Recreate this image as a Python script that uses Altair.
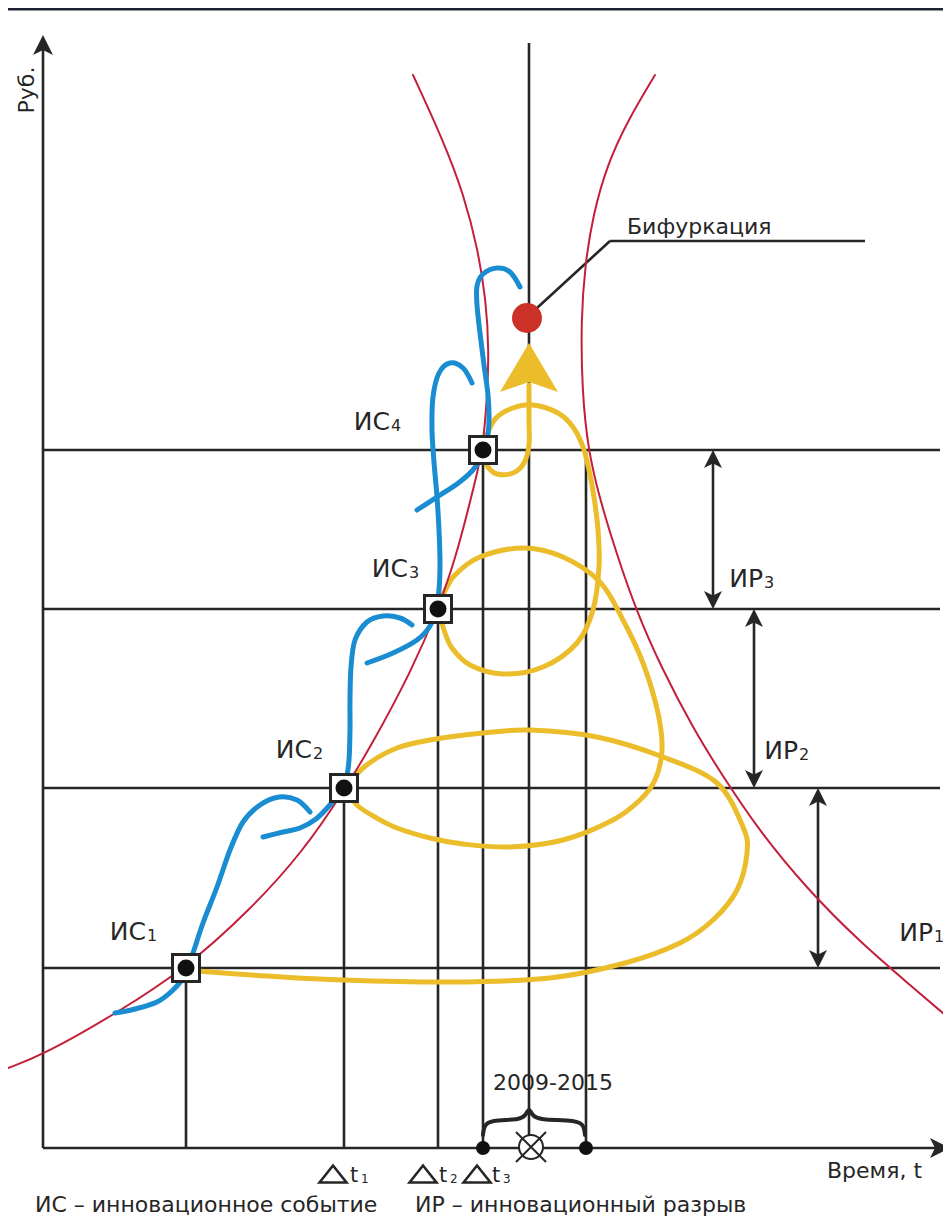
import altair as alt
import pandas as pd

# ---------------- data (diagram units = picture units) ----------------
# red funnel curves
red_left = [(8, 1068), (43, 1055), (117, 1013), (186, 968), (248, 912), (303, 852), (345, 789),
            (370, 748), (412, 670), (438, 609), (455, 560), (468, 510), (478, 470), (483, 445),
            (487, 400), (489, 350), (486, 300), (478, 250), (464, 195), (443, 140), (413, 75)]
red_right = [(655, 75), (628, 120), (607, 165), (593, 215), (585, 265), (581, 320), (582, 390),
             (588, 450), (600, 500), (617, 555), (636, 610), (661, 667), (694, 730), (722, 775),
             (760, 832), (808, 890), (860, 942), (910, 985), (951, 1020)]

# blue S-curves (one per innovation event)
blue_1 = [(115, 1013), (135, 1009), (157, 1002), (173, 990), (185, 975), (193, 953), (203, 923),
          (217, 887), (230, 850), (243, 822), (260, 805), (279, 797), (297, 800), (310, 812)]
blue_2 = [(263, 837), (283, 832), (300, 828), (316, 819), (329, 806), (340, 793), (346, 780),
          (349, 760), (350, 730), (350, 700), (351, 667), (355, 640), (367, 622), (383, 616),
          (400, 618), (412, 625)]
blue_3 = [(367, 663), (393, 653), (417, 640), (430, 626), (436, 610), (439, 590), (440, 563),
          (439, 530), (437, 497), (434, 462), (432, 430), (433, 397), (439, 373), (450, 363),
          (463, 368), (472, 383)]
blue_4 = [(417, 510), (437, 497), (457, 484), (472, 471), (481, 458), (487, 440), (489, 420),
          (488, 395), (484, 365), (480, 333), (477, 305), (477, 286), (483, 274), (497, 268),
          (510, 272), (520, 287)]

# yellow spiral of innovation cycles
yellow_1 = [(197, 971), (267, 976), (343, 980), (450, 982), (550, 978), (625, 963), (680, 943),
            (713, 920), (737, 890), (747, 853), (743, 827), (717, 783), (663, 757), (597, 737),
            (530, 730), (483, 733), (430, 740), (397, 748), (368, 764), (348, 784)]
yellow_2 = [(348, 793), (358, 806), (375, 817), (397, 828), (430, 838), (463, 844), (510, 847),
            (563, 840), (613, 820), (640, 800), (655, 780), (662, 750), (658, 713), (643, 663),
            (623, 620), (600, 582), (563, 557), (523, 548), (480, 557), (455, 575), (443, 595),
            (440, 604)]
yellow_3 = [(440, 614), (444, 630), (452, 648), (470, 665), (503, 674), (543, 667), (577, 643),
            (593, 610), (599, 567), (598, 530), (594, 497), (589, 470), (583, 447), (573, 427),
            (558, 413), (533, 405), (513, 408), (496, 418), (487, 435)]
yellow_4 = [(485, 457), (488, 467), (497, 474), (513, 473), (524, 463), (529, 445), (529, 420),
            (529, 385)]

# innovation events ИС1..ИС4
event_t = [186, 344, 438, 483]
event_level = [968, 788, 609, 450]
event_sub = ["1", "2", "3", "4"]
event_label_x = [146, 312, 408, 390]
event_label_y = [940, 758, 577, 430]

# innovation gaps ИР1..ИР3
gap_t = [818, 754, 713]
gap_low = [968, 788, 609]
gap_high = [788, 609, 450]
gap_sub = ["1", "2", "3"]
gap_label_x = [933, 798, 763]
gap_label_y = [941, 759, 587]

# axes / special marks
axis_origin = (43, 1148)
axis_y_top = 35
axis_x_end = 950
level_line_end = 940
center_t = 529
center_top = 43
right_t = 586
period_from, period_to = 483, 586
bifurcation = (527, 318)
leader = [(537, 308), (610, 241), (865, 241)]
brace = [(483, 1135), (484, 1126), (490, 1120), (520, 1120), (526, 1115), (529, 1107),
         (532, 1115), (538, 1120), (578, 1120), (584, 1126), (585, 1135)]
yellow_arrow_tip = (529, 343)
dt_t = [333, 423, 477]
dt_sub = ["1", "2", "3"]
dt_text_x = [350, 439, 492]

RED = "#c41f3a"
BLUE = "#1a8cd1"
YELLOW = "#ebbd2a"
BLACK = "#262626"
DOT_RED = "#cc3128"
FONT = "DejaVu Sans"

# ---------------- scales ----------------
xs = alt.Scale(domain=[8, 943], nice=False, zero=False)
ys = alt.Scale(domain=[8, 1221], nice=False, zero=False, reverse=True)
X = alt.X("x:Q", scale=xs, axis=None)
Y = alt.Y("y:Q", scale=ys, axis=None)


def poly_frame(named):
    rows = []
    for name, pts in named:
        for i, (x, y) in enumerate(pts):
            rows.append({"id": name, "i": i, "x": x, "y": y})
    return pd.DataFrame(rows)


def line_layer(named, color, width, interp="cardinal"):
    return alt.Chart(poly_frame(named)).mark_line(
        color=color, strokeWidth=width, interpolate=interp, strokeCap="round"
    ).encode(x=X, y=Y, detail="id:N", order="i:Q")


# black straight lines
ox, oy = axis_origin
rules = []
rules.append((ox, oy, ox, axis_y_top + 14))
rules.append((ox, oy, axis_x_end - 14, oy))
for lv in event_level:
    rules.append((ox, lv, level_line_end, lv))
for t, lv in zip(event_t, event_level):
    rules.append((t, lv, t, oy))
rules.append((center_t, center_top, center_t, oy))
rules.append((right_t, event_level[3], right_t, oy))
for t, lo, hi in zip(gap_t, gap_low, gap_high):
    rules.append((t, lo - 6, t, hi + 6))
rules.append((leader[0][0], leader[0][1], leader[1][0], leader[1][1]))
rules.append((leader[1][0], leader[1][1], leader[2][0], leader[2][1]))
rules_df = pd.DataFrame(rules, columns=["x", "y", "x2", "y2"])
rule_layer = alt.Chart(rules_df).mark_rule(color=BLACK, strokeWidth=2.6).encode(
    x=X, y=Y, x2="x2:Q", y2="y2:Q")

# top dark band
band = alt.Chart(pd.DataFrame([{"x": 8, "x2": 943, "y": 8, "y2": 10.5}])).mark_rect(
    color="#1d2230").encode(x=X, x2="x2:Q", y=Y, y2="y2:Q")

# arrowheads
ARROW = "M0,-1L1,1L0,0.5L-1,1Z"
heads = [
    {"x": ox, "y": axis_y_top + 10, "a": 0, "s": 400},
    {"x": axis_x_end - 10, "y": oy, "a": 90, "s": 400},
]
for t, lo, hi in zip(gap_t, gap_low, gap_high):
    heads.append({"x": t, "y": hi + 9, "a": 0, "s": 324})
    heads.append({"x": t, "y": lo - 9, "a": 180, "s": 324})
heads_layer = alt.Chart(pd.DataFrame(heads)).mark_point(
    shape=ARROW, filled=True, color=BLACK, opacity=1, strokeWidth=0).encode(
    x=X, y=Y, angle=alt.Angle("a:Q", scale=None), size=alt.Size("s:Q", scale=None))

yel_head = alt.Chart(pd.DataFrame([{"x": yellow_arrow_tip[0], "y": yellow_arrow_tip[1] + 24.5}])).mark_point(
    shape="M0,-0.845L1,0.845L0,0.5L-1,0.845Z", filled=True, color=YELLOW, opacity=1,
    size=3364, strokeWidth=0).encode(x=X, y=Y)

# event squares and dots
ev_df = pd.DataFrame({"x": event_t, "y": event_level})
squares = alt.Chart(ev_df).mark_point(shape="square", size=729, filled=True, fill="white",
                                      stroke=BLACK, strokeWidth=3, opacity=1).encode(x=X, y=Y)
dots = alt.Chart(ev_df).mark_point(shape="circle", size=289, filled=True, color="#111",
                                   opacity=1).encode(x=X, y=Y)

bif_dot = alt.Chart(pd.DataFrame([{"x": bifurcation[0], "y": bifurcation[1]}])).mark_point(
    shape="circle", size=900, filled=True, color=DOT_RED, opacity=1).encode(x=X, y=Y)

axis_dots = alt.Chart(pd.DataFrame({"x": [period_from, period_to], "y": [oy, oy]})).mark_point(
    shape="circle", size=196, filled=True, color="#111", opacity=1).encode(x=X, y=Y)

cross_c = alt.Chart(pd.DataFrame([{"x": 531, "y": oy - 1}])).mark_point(
    shape="circle", size=576, filled=True, fill="white", stroke=BLACK, strokeWidth=2,
    opacity=1).encode(x=X, y=Y)
cross_x = alt.Chart(pd.DataFrame([{"x": 531, "y": oy - 1}])).mark_point(
    shape="M-1,-1L1,1M-1,1L1,-1", size=900, filled=False, color=BLACK, strokeWidth=2,
    opacity=1).encode(x=X, y=Y)

tri = alt.Chart(pd.DataFrame({"x": dt_t, "y": [1174] * 3})).mark_point(
    shape="M-1,0.63L0,-0.63L1,0.63Z", size=729, filled=False, color=BLACK, strokeWidth=2.6,
    opacity=1).encode(x=X, y=Y)

# texts
def text_layer(df, align, size, **kw):
    return alt.Chart(df).mark_text(align=align, baseline="alphabetic", font=FONT,
                                   fontSize=size, color=BLACK, **kw).encode(x=X, y=Y, text="t:N")

main_lab = pd.DataFrame(
    [{"x": x, "y": y, "t": "ИС"} for x, y in zip(event_label_x, event_label_y)] +
    [{"x": x, "y": y, "t": "ИР"} for x, y in zip(gap_label_x, gap_label_y)])
sub_lab = pd.DataFrame(
    [{"x": x + 1, "y": y + 1, "t": s} for x, y, s in zip(event_label_x, event_label_y, event_sub)] +
    [{"x": x + 1, "y": y + 1, "t": s} for x, y, s in zip(gap_label_x, gap_label_y, gap_sub)])
t_lab = pd.DataFrame([{"x": x, "y": 1182, "t": "t"} for x in dt_text_x])
t_sub = pd.DataFrame([{"x": x + 11, "y": 1183, "t": s} for x, s in zip(dt_text_x, dt_sub)])
misc = pd.DataFrame([
    {"x": 627, "y": 234, "t": "Бифуркация"},
    {"x": 493, "y": 1090, "t": "2009-2015"},
    {"x": 827, "y": 1178, "t": "Время, t"},
    {"x": 35, "y": 1212, "t": "ИС – инновационное событие"},
    {"x": 415, "y": 1212, "t": "ИР – инновационный разрыв"},
])
rub = pd.DataFrame([{"x": 34, "y": 90, "t": "Руб."}])

layers = [
    band,
    rule_layer,
    line_layer([("b", brace)], BLACK, 4, "basis"),
    line_layer([("y1", yellow_1), ("y2", yellow_2), ("y3", yellow_3), ("y4", yellow_4)], YELLOW, 5),
    line_layer([("rl", red_left), ("rr", red_right)], RED, 2, "basis"),
    line_layer([("b1", blue_1), ("b2", blue_2), ("b3", blue_3), ("b4", blue_4)], BLUE, 5),
    yel_head,
    heads_layer,
    squares,
    dots,
    bif_dot,
    cross_c,
    cross_x,
    axis_dots,
    tri,
    text_layer(main_lab, "right", 25),
    text_layer(sub_lab, "left", 16),
    text_layer(t_lab, "left", 21),
    text_layer(t_sub, "left", 12),
    text_layer(misc, "left", 22),
    text_layer(rub, "center", 22, angle=270),
]

chart = alt.layer(*layers).properties(
    width=935, height=1213, padding=0, autosize="none", background="white"
).configure_view(stroke=None)

chart.save("out.html", embed_options={"renderer": "svg", "actions": False})
